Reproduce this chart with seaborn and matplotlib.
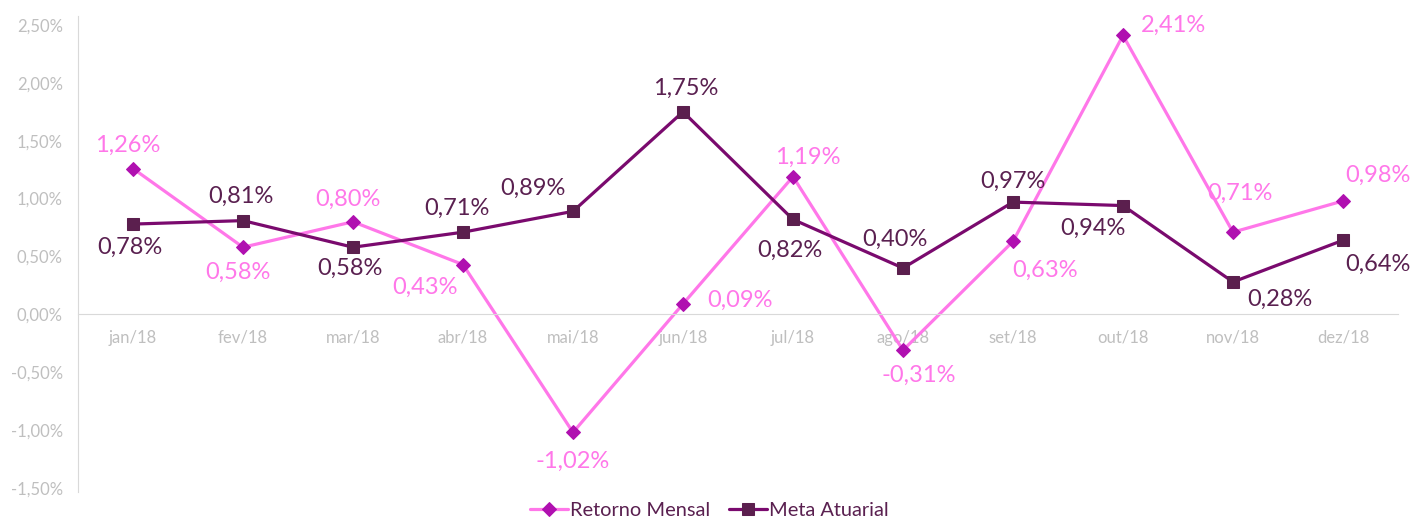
import pandas as pd
import matplotlib.pyplot as plt
import matplotlib.ticker as mticker
import seaborn as sns

months = ['jan/18', 'fev/18', 'mar/18', 'abr/18', 'mai/18', 'jun/18',
          'jul/18', 'ago/18', 'set/18', 'out/18', 'nov/18', 'dez/18']
retorno = [1.26, 0.58, 0.80, 0.43, -1.02, 0.09, 1.19, -0.31, 0.63, 2.41, 0.71, 0.98]
meta = [0.78, 0.81, 0.58, 0.71, 0.89, 1.75, 0.82, 0.40, 0.97, 0.94, 0.28, 0.64]

# label offsets (pixels) for each point, picked by eye
ret_off = [(-5, 23), (-5, -25), (-5, 22), (-38, -23), (0, -29), (57, 4),
           (15, 19), (16, -25), (32, -29), (51, 10), (7, 39), (35, 26)]
meta_off = [(-3, -23), (-2, 24), (-3, -21), (-6, 24), (-40, 23), (3, 23),
            (-3, -31), (-8, 29), (0, 21), (-30, -23), (47, -17), (35, -24)]

sns.set_style('white')
plt.rcParams['font.family'] = ['Lato', 'DejaVu Sans']

df = pd.DataFrame({'Mes': months, 'Retorno Mensal': retorno, 'Meta Atuarial': meta})

fig = plt.figure(figsize=(14.13, 5.29), dpi=100)
ax = fig.add_axes([78 / 1413, 1 - 492 / 529, 1320 / 1413, 476 / 529])

pink_line, pink_mark = '#ff77e9', '#b010b0'
dark_line, dark_mark = '#7a0a6e', '#5b1f4e'
pink_txt, dark_txt = '#ff77e9', '#5a2050'

sns.lineplot(data=df, x='Mes', y='Retorno Mensal', ax=ax, sort=False, color=pink_line,
             linewidth=2.3, marker='D', markersize=7.5, markerfacecolor=pink_mark,
             markeredgecolor=pink_mark, label='Retorno Mensal')
sns.lineplot(data=df, x='Mes', y='Meta Atuarial', ax=ax, sort=False, color=dark_line,
             linewidth=2.3, marker='s', markersize=8, markerfacecolor=dark_mark,
             markeredgecolor=dark_mark, label='Meta Atuarial')

for i, v in enumerate(retorno):
    dx, dy = ret_off[i]
    ax.annotate(f'{v:.2f}%'.replace('.', ','), (i, v), xytext=(dx * 0.72, dy * 0.72),
                textcoords='offset points', ha='center', va='center',
                fontsize=17, color=pink_txt)
for i, v in enumerate(meta):
    dx, dy = meta_off[i]
    ax.annotate(f'{v:.2f}%'.replace('.', ','), (i, v), xytext=(dx * 0.72, dy * 0.72),
                textcoords='offset points', ha='center', va='center',
                fontsize=17, color=dark_txt)

ax.set_xlim(-0.5, 11.5)
ax.set_ylim(-1.535, 2.578)
ax.set_yticks([-1.5, -1.0, -0.5, 0, 0.5, 1.0, 1.5, 2.0, 2.5])
ax.yaxis.set_major_formatter(mticker.FuncFormatter(lambda v, p: f'{v:.2f}%'.replace('.', ',')))
ax.tick_params(axis='y', length=0, labelsize=12, labelcolor='#bfbfbf', pad=11)

ax.spines['top'].set_visible(False)
ax.spines['right'].set_visible(False)
ax.spines['left'].set_color('#d9d9d9')
ax.spines['bottom'].set_position(('data', 0))
ax.spines['bottom'].set_color('#d9d9d9')
ax.set_xticks(range(12))
ax.set_xticklabels(months)
ax.set_xticks([i - 0.5 for i in range(13)], minor=True)
ax.tick_params(axis='x', which='major', length=0, labelsize=12, labelcolor='#bfbfbf', pad=11)
ax.tick_params(axis='x', which='minor', length=5, color='#d9d9d9', direction='out')
ax.set_xlabel('')
ax.set_ylabel('')

ax.get_legend().remove()
handles, labels = ax.get_legend_handles_labels()
leg = fig.legend(handles, labels, loc='lower center', bbox_to_anchor=(0.502, -0.015), ncol=2,
                 frameon=False, fontsize=14.4, handlelength=1.9, handletextpad=0.1,
                 columnspacing=0.9)
for t in leg.get_texts():
    t.set_color(dark_txt)

plt.savefig('out.png', dpi=100)
